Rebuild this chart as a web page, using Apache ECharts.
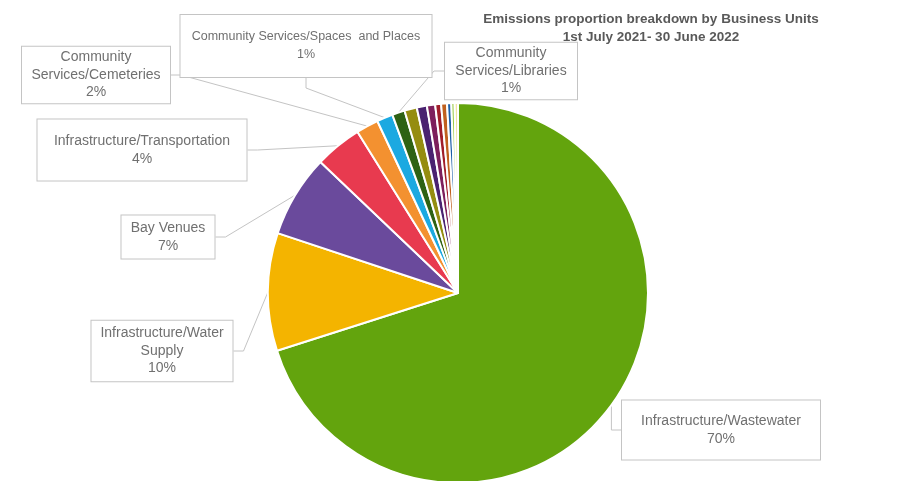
<!DOCTYPE html>
<html>
<head>
<meta charset="utf-8">
<script src="https://cdn.jsdelivr.net/npm/echarts@6/dist/echarts.min.js"></script>
<style>html,body{margin:0;padding:0;background:#fff}#c{width:920px;height:481px}</style>
</head>
<body>
<div id="c"></div>
<script>
// Business units (clockwise from 12 o'clock)
var categories = [
  "Infrastructure/Wastewater",
  "Infrastructure/Water Supply",
  "Bay Venues",
  "Infrastructure/Transportation",
  "Community Services/Cemeteries",
  "Community Services/Spaces and Places",
  "Community Services/Libraries",
  "Unit 8", "Unit 9", "Unit 10", "Unit 11", "Unit 12", "Unit 13", "Unit 14", "Unit 15"
];
// Emission proportions (%)
var values = [70, 10, 7, 4, 1.9, 1.36, 1.08, 1.05, 0.86, 0.7, 0.5, 0.5, 0.36, 0.28, 0.28];
// Label text shown in the call-out boxes (null = no label)
var labelText = [
  "Infrastructure/Wastewater",
  "Infrastructure/Water\nSupply",
  "Bay Venues",
  "Infrastructure/Transportation",
  "Community\nServices/Cemeteries",
  "Community Services/Spaces  and Places",
  "Community\nServices/Libraries",
  null, null, null, null, null, null, null, null
];
var colors = ["#63a40d", "#f4b400", "#6a4a9c", "#e83a4f", "#f39130", "#1ba9e1", "#2e6214",
  "#958d10", "#4a2270", "#7d1f5c", "#a01d2a", "#c0601e", "#1d5fa8", "#9ccc47", "#efe3a0"];

// Call-out box layout: [centerX, centerY, contentWidth, paddingV, fontSize]
var boxes = {
  0: [721, 430, 198, 12, 14],
  1: [162, 351, 141, 4, 14],
  2: [168, 237, 93, 4, 14],
  3: [142, 150, 209, 13, 14],
  4: [96, 75, 148, 2, 14],
  5: [306, 46, 251, 13, 12.5],
  6: [511, 71, 132, 2, 14]
};

var data = categories.map(function (n, i) {
  var d = { name: n, value: values[i], itemStyle: { color: colors[i] } };
  if (labelText[i] === null) {
    d.label = { show: false };
    d.labelLine = { show: false };
  } else {
    var b = boxes[i];
    d.label = {
      show: true,
      width: b[2],
      padding: [b[3], 0, b[3], 0],
      fontSize: b[4],
      lineHeight: b[4] < 13 ? 18 : 17.5,
      align: 'center'
    };
  }
  return d;
});

var chart = echarts.init(document.getElementById('c'), null, { renderer: 'canvas' });
chart.setOption({
  backgroundColor: '#ffffff',
  animation: false,
  title: {
    text: 'Emissions proportion breakdown by Business Units\n1st July 2021- 30 June 2022',
    left: 646, top: 5, textAlign: 'center',
    textStyle: { fontFamily: 'Liberation Sans, Arial, sans-serif', fontSize: 13.5, fontWeight: 'bold', color: '#595959', lineHeight: 18, align: 'center' }
  },
  series: [{
    type: 'pie',
    center: [458, 293],
    radius: 190,
    startAngle: 90,
    clockwise: true,
    avoidLabelOverlap: false,
    itemStyle: { borderColor: '#ffffff', borderWidth: 2 },
    label: {
      position: 'outside',
      fontFamily: 'Liberation Sans, Arial, sans-serif',
      color: '#707070',
      backgroundColor: '#ffffff',
      borderColor: '#c4c4c4',
      borderWidth: 1,
      formatter: function (p) {
        return labelText[p.dataIndex] + '\n' + Math.round(p.percent) + '%';
      }
    },
    labelLine: { show: true, length: 10, length2: 10, lineStyle: { color: '#c4c4c4', width: 1 } },
    labelLayout: function (p) {
      var b = boxes[p.dataIndex];
      if (!b) return {};
      return { x: b[0], y: b[1], align: 'center', verticalAlign: 'middle' };
    },
    data: data
  }]
});
</script>
</body>
</html>
